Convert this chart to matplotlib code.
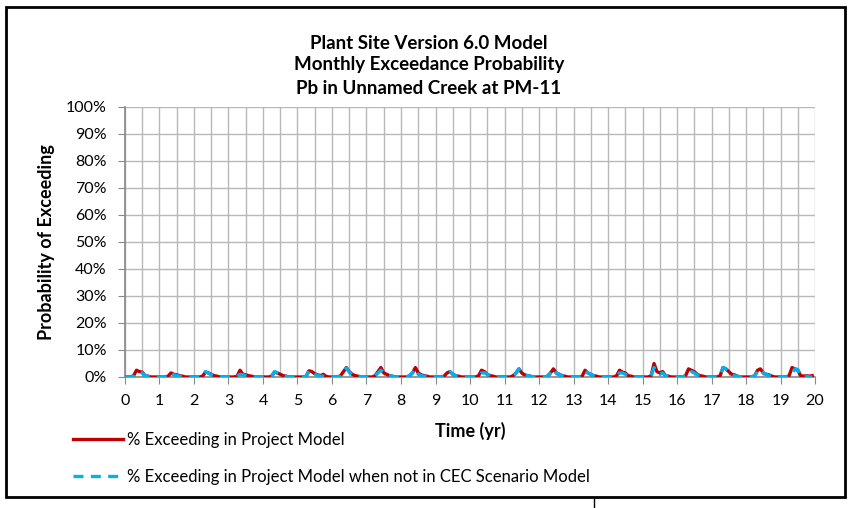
import numpy as np
import matplotlib.pyplot as plt
from matplotlib.ticker import MultipleLocator, PercentFormatter

plt.rcParams['font.family'] = ['Lato', 'DejaVu Sans']

# monthly exceedance probability (%), one row per year
project = [
    [0, 0, 0, 0.5, 2.5, 2.0, 1.8, 0.5, 0.3, 0, 0, 0],
    [0, 0, 0, 0.3, 1.5, 1.0, 0.8, 0.5, 0.3, 0, 0, 0],
    [0, 0, 0, 0.3, 1.8, 1.5, 1.0, 0.5, 0.3, 0, 0, 0],
    [0, 0, 0, 0.3, 2.5, 1.0, 0.8, 0.5, 0.3, 0, 0, 0],
    [0, 0, 0, 0.3, 1.8, 1.5, 1.0, 0.5, 0.3, 0, 0, 0],
    [0, 0, 0, 0.3, 2.3, 2.0, 1.2, 0.8, 0.5, 1.0, 0.2, 0],
    [0, 0, 0, 0.5, 2.0, 3.5, 2.0, 1.0, 0.5, 0.3, 0, 0],
    [0, 0, 0, 0.5, 2.0, 3.5, 1.5, 1.0, 0.5, 0.3, 0, 0],
    [0, 0, 0, 0.5, 1.5, 3.5, 1.5, 0.8, 0.5, 0.3, 0, 0],
    [0, 0, 0, 0.3, 1.5, 2.0, 1.0, 0.5, 0.3, 0, 0, 0],
    [0, 0, 0, 0.5, 2.5, 2.0, 1.0, 0.5, 0.3, 0, 0, 0],
    [0, 0, 0, 0.5, 1.5, 3.0, 1.5, 0.8, 0.5, 0.3, 0, 0],
    [0, 0, 0, 0.3, 1.5, 3.0, 1.5, 1.0, 0.5, 0.3, 0, 0],
    [0, 0, 0, 0.3, 2.5, 1.5, 1.0, 0.5, 0.3, 0, 0, 0],
    [0, 0, 0, 0.5, 2.5, 1.8, 1.5, 0.5, 0.3, 0, 0, 0],
    [0, 0, 0, 0.5, 5.0, 2.0, 1.5, 2.0, 0.5, 0.3, 0, 0],
    [0, 0, 0, 0.5, 3.0, 2.5, 2.0, 1.0, 0.5, 0.3, 0, 0],
    [0, 0, 0, 0.5, 3.5, 3.0, 2.0, 1.0, 0.8, 0.3, 0, 0],
    [0, 0, 0, 0.5, 2.5, 3.0, 1.5, 1.0, 0.8, 0.3, 0, 0],
    [0, 0, 0, 0.5, 3.5, 3.0, 2.5, 0.5, 0.3, 0.5, 0.3, 0.5],
]
not_cec = [
    [0, 0, 0, 0.3, 1.5, 1.5, 1.5, 0.5, 0.3, 0, 0, 0],
    [0, 0, 0, 0.3, 1.5, 0.8, 0.5, 0.3, 0.2, 0, 0, 0],
    [0, 0, 0, 0.3, 2.0, 1.5, 0.8, 0.5, 0.3, 0, 0, 0],
    [0, 0, 0, 0.3, 1.0, 0.8, 0.5, 0.3, 0.2, 0, 0, 0],
    [0, 0, 0, 0.3, 2.0, 1.5, 0.8, 0.5, 0.3, 0, 0, 0],
    [0, 0, 0, 0.3, 2.3, 2.3, 1.2, 0.5, 0.3, 0.3, 0, 0],
    [0, 0, 0, 0.5, 2.0, 3.3, 1.8, 0.8, 0.5, 0.3, 0, 0],
    [0, 0, 0, 0.5, 1.5, 2.5, 1.5, 0.8, 0.5, 0.3, 0, 0],
    [0, 0, 0, 0.5, 1.5, 3.0, 1.0, 0.5, 0.3, 0, 0, 0],
    [0, 0, 0, 0.3, 1.5, 2.0, 1.0, 0.5, 0.3, 0, 0, 0],
    [0, 0, 0, 0.3, 1.5, 1.5, 1.0, 0.5, 0.3, 0, 0, 0],
    [0, 0, 0, 0.5, 1.5, 3.0, 1.5, 0.8, 0.5, 0.3, 0, 0],
    [0, 0, 0, 0.3, 1.5, 3.0, 1.5, 1.0, 0.5, 0.3, 0, 0],
    [0, 0, 0, 0.3, 2.0, 1.5, 1.0, 0.5, 0.3, 0, 0, 0],
    [0, 0, 0, 0.3, 1.5, 1.5, 1.0, 0.5, 0.3, 0, 0, 0],
    [0, 0, 0, 0.5, 3.5, 2.0, 1.0, 1.5, 0.5, 0.3, 0, 0],
    [0, 0, 0, 0.5, 2.0, 2.0, 1.5, 0.8, 0.5, 0.3, 0, 0],
    [0, 0, 0, 0.5, 3.5, 3.0, 2.0, 1.0, 0.5, 0.3, 0, 0],
    [0, 0, 0, 0.5, 2.0, 3.0, 1.5, 1.0, 0.5, 0.3, 0, 0],
    [0, 0, 0, 0.5, 1.0, 3.0, 2.8, 0.5, 0.3, 0.3, 0, 0],
]

red = np.array(project).ravel()
blue = np.array(not_cec).ravel()
t = np.arange(len(red)) / 12.0

fig = plt.figure(figsize=(8.49, 5.08), dpi=100)
ax = fig.add_axes([0.1472, 0.2579, 0.8128, 0.5315])

ax.plot(t, red, color='#c00000', lw=2.4, label='% Exceeding in Project Model', zorder=3)
ax.plot(t, blue, color='#00b0f0', lw=2.4, dashes=(3, 2.2),
        label='% Exceeding in Project Model when not in CEC Scenario Model', zorder=4)

ax.set_xlim(0, 20)
ax.set_ylim(0, 100)
ax.xaxis.set_major_locator(MultipleLocator(1))
ax.xaxis.set_minor_locator(MultipleLocator(0.5))
ax.yaxis.set_major_locator(MultipleLocator(10))
ax.yaxis.set_major_formatter(PercentFormatter(decimals=0))
ax.grid(True, which='both', color='#b8b8b8', lw=1.0)
ax.set_axisbelow(True)
for s in ['top', 'right']:
    ax.spines[s].set_visible(False)
for s in ['left', 'bottom']:
    ax.spines[s].set_color('#888888')
    ax.spines[s].set_linewidth(1.2)
ax.tick_params(which='major', length=5, color='#888888', labelsize=11.5, direction='out')
ax.tick_params(axis='y', pad=8)
ax.tick_params(axis='x', pad=7)
ax.tick_params(which='minor', length=0)

ax.set_ylabel('Probability of Exceeding', fontsize=13, fontweight='bold', labelpad=8)
ax.set_xlabel('Time (yr)', fontsize=13, fontweight='bold', labelpad=10)

fig.text(0.505, 0.915, 'Plant Site Version 6.0 Model', ha='center', va='center',
         fontsize=13.5, fontweight='bold')
fig.text(0.505, 0.874, 'Monthly Exceedance Probability', ha='center', va='center',
         fontsize=13.5, fontweight='bold')
fig.text(0.505, 0.825, 'Pb in Unnamed Creek at PM-11', ha='center', va='center',
         fontsize=13.5, fontweight='bold')

fig.legend(loc='upper left', bbox_to_anchor=(0.068, 0.18), frameon=False,
           fontsize=12, labelspacing=1.3, handlelength=3.0, handletextpad=0.25)

# outer chart border and the edge of the page behind it
fig.add_artist(plt.Rectangle((0.007, 0.022), 0.988, 0.965, transform=fig.transFigure,
                             fill=False, edgecolor='black', lw=2))
fig.add_artist(plt.Line2D([0.70, 0.70], [0.0, 0.022], transform=fig.transFigure,
                          color='black', lw=1))

fig.savefig('out.png', dpi=100)
